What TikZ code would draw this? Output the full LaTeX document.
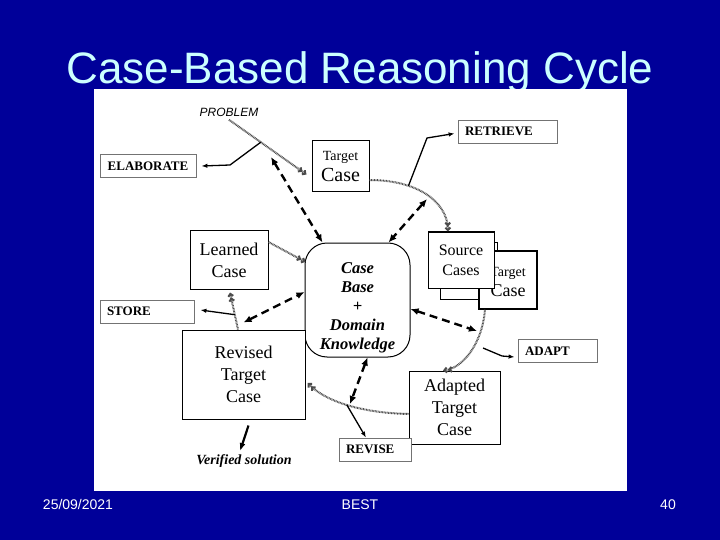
\documentclass[tikz,border=0pt]{standalone}
\usepackage{fontspec}
\setmainfont{Liberation Serif}
\newfontfamily\slidefont{Liberation Sans}
\usetikzlibrary{arrows.meta}
\definecolor{slideblue}{RGB}{0,0,153}
\definecolor{titlecyan}{RGB}{204,255,255}

\begin{document}
\begin{tikzpicture}[
    x=1pt, y=-1pt,
    casebox/.style={rectangle, draw, line width=1pt, fill=white, align=center, inner sep=0pt},
    actionbox/.style={rectangle, draw=black!55, line width=0.8pt, fill=white, minimum height=23pt, inner xsep=7pt, inner ysep=0pt, align=left, font=\bfseries\fontsize{13}{14}\selectfont},
    flow/.style={draw=black!70, line width=2pt, dash pattern=on 0.8pt off 0.7pt, -{Straight Barb[length=2.5pt,width=5pt]Straight Barb[length=2.5pt,width=5pt]}},
    link/.style={line width=2.4pt, dash pattern=on 8pt off 5pt, {Latex[length=8pt,width=7pt]}-{Latex[length=8pt,width=7pt]}},
    act/.style={line width=1.3pt, -{Latex[length=6pt,width=4.5pt]}},
    footer/.style={text=white, anchor=base, font=\slidefont\fontsize{14}{16}\selectfont}
]
\useasboundingbox (0,0) rectangle (720,540);

% Slide
\fill[slideblue] (0,0) rectangle (720,540);
\node[anchor=base, text=titlecyan, font=\slidefont\fontsize{44}{48}\selectfont] (title) at (360,84) {Case-Based Reasoning Cycle};
\fill[white] (94,89) rectangle (627,491);
\node[footer] (date) at (78,509) {25/09/2021};
\node[footer] (best) at (360,509) {BEST};
\node[footer] (page) at (668,509) {40};

% Labels
\node[font=\slidefont\itshape\fontsize{12}{14}\selectfont] (problem) at (229,112) {PROBLEM};
\node[font=\bfseries\itshape\fontsize{14}{16}\selectfont] (verified) at (244,461) {Verified solution};

% Cases
\node[casebox, minimum width=57pt, minimum height=51pt] (target) at (340.5,166.5)
    {\fontsize{14}{16}\selectfont Target\\[3pt]\fontsize{20}{21}\selectfont Case};
\node[casebox, minimum width=78pt, minimum height=58pt, font=\fontsize{18}{22}\selectfont] (learned) at (229,260) {Learned\\Case};
\node[casebox, rounded corners=22pt, minimum width=105pt, minimum height=114pt, font=\bfseries\itshape\fontsize{16.5}{19}\selectfont] (casebase) at (357.5,300)
    {\rule{0pt}{26pt}Case\\Base\\+\\Domain\\Knowledge};
\node[casebox, minimum width=57pt, minimum height=57pt] (stackback) at (468.5,270.5) {};
\node[casebox, line width=1.6pt, minimum width=58pt, minimum height=58pt] (stacktarget) at (508,280)
    {\fontsize{14}{16}\selectfont\rule{0pt}{14pt}Target\\[4pt]\fontsize{18}{20}\selectfont Case};
\node[casebox, minimum width=66pt, minimum height=56pt, font=\fontsize{16}{20}\selectfont] (source) at (461,260) {Source\\Cases};
\node[casebox, minimum width=123pt, minimum height=89pt, font=\fontsize{18}{22}\selectfont] (revised) at (243.5,374.5) {Revised\\Target\\Case};
\node[casebox, minimum width=91pt, minimum height=73pt, font=\fontsize{18}{22}\selectfont] (adapted) at (454.5,407.5) {Adapted\\Target\\Case};

% Steps
\node[actionbox, minimum width=96pt, align=center, inner xsep=2pt] (elaborate) at (148,166) {ELABORATE};
\node[actionbox, text width=85pt] (retrieve) at (507.5,131.5) {RETRIEVE};
\node[actionbox, text width=80pt] (store) at (147,311.5) {STORE};
\node[actionbox, text width=65pt] (adapt) at (557.5,351) {ADAPT};
\node[actionbox, text width=58pt] (revise) at (375,449.5) {REVISE};

% Free ends
\coordinate (elabbend) at (230,165);
\coordinate (problink) at (271,157);
\coordinate (retrbend) at (427,138);
\coordinate (retrlink) at (427,199);
\coordinate (adaptlink) at (477,331);
\coordinate (adaptstart) at (483,348);
\coordinate (adaptbend) at (502,356);
\coordinate (reviselink) at (350,404);

% Cycle
\draw[flow] (problem.south) -- coordinate[pos=0.41] (elabjoin) ([xshift=-5pt,yshift=-8pt]target.west);
\draw[flow] ([yshift=-13.5pt]target.east) .. controls (415,180) and (447,200) .. ([xshift=-13pt]source.north)
    coordinate[pos=0.32] (retrjoin);
\draw[flow] ([xshift=-23pt]stacktarget.south) .. controls (482,345) and (462,368) .. ([xshift=-11.5pt]adapted.north);
\draw[flow] ([yshift=-6.5pt]adapted.west) .. controls (370,413) and (330,405) .. ([xshift=2pt,yshift=-8.5pt]revised.east)
    coordinate[pos=0.55] (revisejoin);
\draw[flow] ([xshift=-5.5pt]revised.north) -- coordinate[pos=0.4] (storejoin) ([xshift=1pt,yshift=-3pt]learned.south);
\draw[flow] ([yshift=18pt]learned.east) -- ([xshift=1pt,yshift=38pt]casebase.west);

% Steps out
\draw[act] (elabjoin) -- (elabbend) -- ([xshift=5pt]elaborate.east);
\draw[act] (retrjoin) -- (retrbend) -- ([xshift=-3pt,yshift=-2pt]retrieve.west);
\draw[act] (storejoin) -- ([xshift=6pt,yshift=1.5pt]store.east);
\draw[act] (adaptstart) -- (adaptbend) -- ([xshift=-3pt,yshift=-6pt]adapt.west);
\draw[act] (revisejoin) -- ([xshift=-9pt]revise.north);
\draw[act, line width=2.2pt, -{Latex[length=8pt,width=6pt]}] ([xshift=5pt,yshift=-6pt]revised.south) -- ([xshift=-4pt]verified.north);

% Knowledge links
\draw[link] (problink) -- ([xshift=18pt]casebase.north west);
\draw[link] (retrlink) -- ([xshift=-22pt]casebase.north east);
\draw[link] ([yshift=7pt]revised.north) -- ([yshift=8pt]casebase.west);
\draw[link] ([yshift=-9pt]casebase.east) -- (adaptlink);
\draw[link] ([xshift=10pt]casebase.south) -- (reviselink);

\end{tikzpicture}
\end{document}
